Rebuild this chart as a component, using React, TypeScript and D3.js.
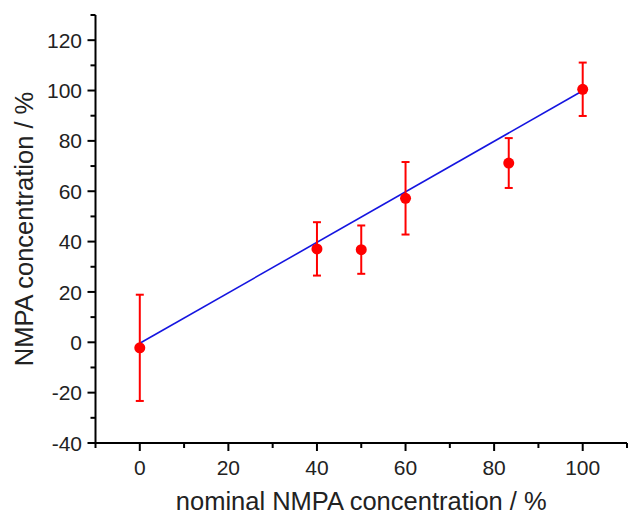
import React from "react";
import * as d3 from "d3";

const xValues = [0, 40, 50, 60, 83.3, 100];
const yValues = [-2.2, 37.1, 36.8, 57.2, 71.2, 100.5];
const yErrors = [21.1, 10.6, 9.6, 14.4, 9.9, 10.6];
const fitX = [0, 100];
const fitY = [-0.4, 99.9];
const xMajorTicks = [0, 20, 40, 60, 80, 100];
const xMinorTicks = [-10, 10, 30, 50, 70, 90, 110];
const yMajorTicks = [-40, -20, 0, 20, 40, 60, 80, 100, 120];
const yMinorTicks = [-30, -10, 10, 30, 50, 70, 90, 110, 130];

const W = 628;
const H = 515;
const FONT = "'Liberation Sans', Arial, sans-serif";

export default function App() {
  const x = d3.scaleLinear().domain([-10, 110]).range([95.5, 627]);
  const y = d3.scaleLinear().domain([-40, 130]).range([443, 15]);
  const line = d3
    .line<number>()
    .x((_, i) => x(fitX[i]))
    .y((d) => y(d));

  return (
    <svg
      width={W}
      height={H}
      style={{ position: "absolute", left: 0, top: 0, background: "#fff" }}
    >
      {/* fit line */}
      <path d={line(fitY) || ""} fill="none" stroke="#1515e0" strokeWidth={1.6} />
      {/* error bars */}
      {xValues.map((xv, i) => {
        const cx = x(xv);
        const top = y(yValues[i] + yErrors[i]);
        const bot = y(yValues[i] - yErrors[i]);
        return (
          <g key={"e" + i} stroke="#ff0000" strokeWidth={2}>
            <line x1={cx} x2={cx} y1={top} y2={bot} />
            <line x1={cx - 4} x2={cx + 4} y1={top} y2={top} />
            <line x1={cx - 4} x2={cx + 4} y1={bot} y2={bot} />
          </g>
        );
      })}
      {xValues.map((xv, i) => (
        <circle key={"p" + i} cx={x(xv)} cy={y(yValues[i])} r={5.5} fill="#ff0000" />
      ))}
      {/* axes */}
      <g stroke="#000" strokeWidth={2}>
        <line x1={x(-10)} x2={x(-10)} y1={y(130)} y2={y(-40) + 1} />
        <line x1={x(-10) - 1} x2={x(110)} y1={y(-40)} y2={y(-40)} />
        {yMajorTicks.map((t) => (
          <line key={"ym" + t} x1={x(-10) - 8} x2={x(-10)} y1={y(t)} y2={y(t)} />
        ))}
        {yMinorTicks.map((t) => (
          <line key={"yn" + t} x1={x(-10) - 5} x2={x(-10)} y1={y(t)} y2={y(t)} />
        ))}
        {xMajorTicks.map((t) => (
          <line key={"xm" + t} x1={x(t)} x2={x(t)} y1={y(-40)} y2={y(-40) + 8} />
        ))}
        {xMinorTicks.map((t) => (
          <line key={"xn" + t} x1={x(t)} x2={x(t)} y1={y(-40)} y2={y(-40) + 5} />
        ))}
      </g>
      <g fontFamily={FONT} fontSize={21} fill="#222">
        {yMajorTicks.map((t) => (
          <text key={"yl" + t} x={82} y={y(t)} dy="0.36em" textAnchor="end">
            {t}
          </text>
        ))}
        {xMajorTicks.map((t) => (
          <text key={"xl" + t} x={x(t)} y={475} textAnchor="middle">
            {t}
          </text>
        ))}
      </g>
      <text
        x={(95.5 + 627) / 2}
        y={510}
        textAnchor="middle"
        fontFamily={FONT}
        fontSize={25.5}
        fill="#222"
      >
        nominal NMPA concentration / %
      </text>
      <text
        transform={`translate(33, ${(443 + 15) / 2}) rotate(-90)`}
        textAnchor="middle"
        fontFamily={FONT}
        fontSize={25.5}
        fill="#222"
      >
        NMPA concentration / %
      </text>
    </svg>
  );
}
